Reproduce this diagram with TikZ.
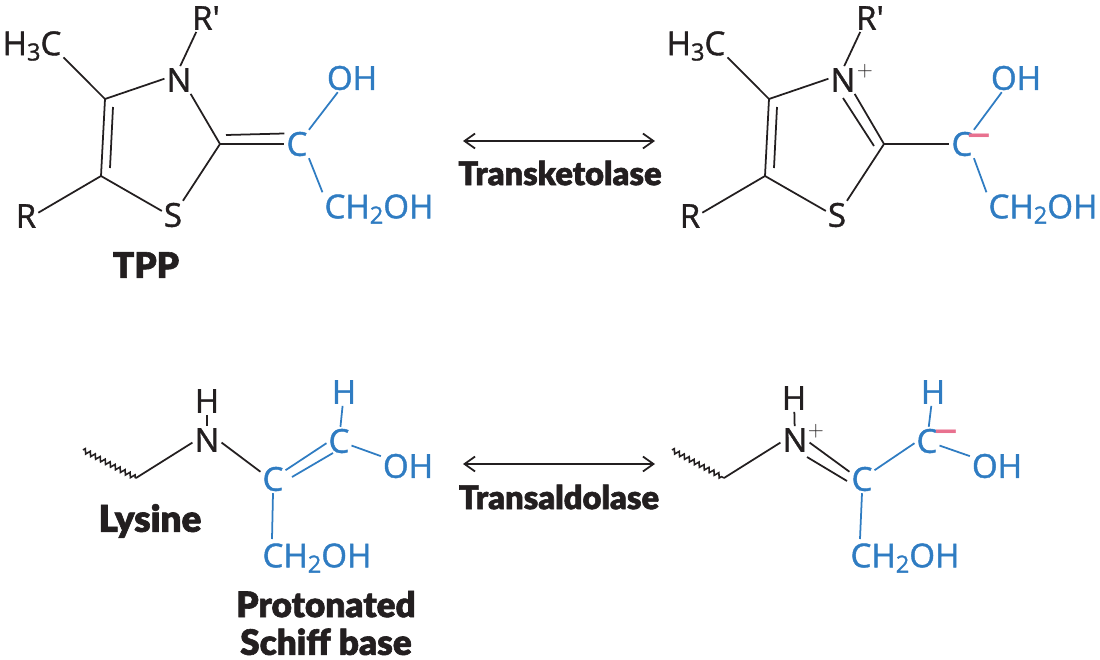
\documentclass[tikz,border=0pt]{standalone}
\usepackage{fontspec}
\usetikzlibrary{decorations.pathmorphing,arrows.meta}
\setmainfont{Open Sans}
\newfontfamily\atomfont[FakeBold=1.2]{Open Sans}
\newfontfamily\thinfont{Open Sans}
\newfontfamily\heavyfont[FakeBold=1.7]{Lato Black}
\definecolor{bondblack}{HTML}{231F20}
\definecolor{chemblue}{HTML}{2F7CC2}
\definecolor{chargepink}{HTML}{E8718F}
\newcommand{\subnum}[1]{\raisebox{-3pt}{\fontsize{13.5}{13.5}\selectfont #1}}

\begin{document}
\begin{tikzpicture}[x=0.02cm,y=-0.02cm]

\tikzset{
  atom/.style = {inner sep=1pt, text=bondblack, font=\atomfont\fontsize{18.8}{20}\selectfont},
  blueatom/.style = {atom, text=chemblue},
  plussign/.style = {inner sep=0pt, text=bondblack, font=\fontsize{12}{12}\selectfont},
  minussign/.style = {inner sep=0pt, text=chargepink, font=\thinfont\fontsize{27}{27}\selectfont},
  caption/.style = {inner sep=0pt, text=bondblack, align=center, font=\heavyfont\fontsize{18.6}{21}\selectfont},
  bigcaption/.style = {caption, font=\heavyfont\fontsize{20}{21.5}\selectfont},
  bond/.style = {draw=bondblack, line width=1pt},
  bluebond/.style = {draw=chemblue, line width=1pt},
  wavy/.style = {bond, line width=0.9pt, decorate, decoration={zigzag, segment length=3.2pt, amplitude=1.3pt}},
  equil/.style = {draw=bondblack, line width=1pt, {Straight Barb[length=6pt,width=8.5pt]}-{Straight Barb[length=6pt,width=8.5pt]}}
}

  \path[use as bounding box] (0,0) rectangle (1100,660);

  % TPP, left
  \node[atom] (rp1) at (206,18) {R′};
  \node[atom] (me1) at (32,46) {H\subnum{3}C};
  \node[atom] (n1) at (179,80) {N};
  \node[atom] (s1) at (173,215) {S};
  \node[atom] (r1) at (26,216) {R};
  \node[blueatom] (c1) at (297,144) {C};
  \node[blueatom] (oh1) at (352,78) {OH};
  \node[blueatom] (ch1) at (379,209) {CH\subnum{2}OH};
  \node[bigcaption] (tpp) at (146,265) {TPP};

  \coordinate (a1) at (105,99);
  \coordinate (b1) at (101,176);
  \coordinate (d1) at (220,144);
  \coordinate (ai1) at (113,107);
  \coordinate (bi1) at (110,168);
  \coordinate (di1) at (226,135);

  \draw[bond] (rp1.-125) -- (n1.85);
  \draw[bond] (me1.-20) -- (a1);
  \draw[bond] (a1) -- (n1.175);
  \draw[bond] (n1.-50) -- (d1);
  \draw[bond] (d1) -- (s1.55);
  \draw[bond] (s1.160) -- (b1);
  \draw[bond] (b1) -- (r1.15);
  \draw[bond] (a1) -- (b1);
  \draw[bond] (ai1) -- (bi1);
  \draw[bond] (d1) -- (c1.west);
  \draw[bond] (di1) -- (c1.140);
  \draw[bluebond] (c1.50) -- (oh1.-135);
  \draw[bluebond] (c1.-50) -- (ch1.north west);

  % TPP, right
  \node[atom] (rp2) at (870,18) {R′};
  \node[atom] (me2) at (696,46) {H\subnum{3}C};
  \node[atom] (n2) at (843,80) {N};
  \node[plussign] (np2) at (865,71) {$+$};
  \node[atom] (s2) at (837,215) {S};
  \node[atom] (r2) at (690,216) {R};
  \node[blueatom] (c2) at (962,144) {C};
  \node[minussign] (cm2) at (979,141) {–};
  \node[blueatom] (oh2) at (1016,78) {OH};
  \node[blueatom] (ch2) at (1043,209) {CH\subnum{2}OH};

  \coordinate (a2) at (769,99);
  \coordinate (b2) at (765,176);
  \coordinate (d2) at (884,144);
  \coordinate (ai2) at (777,107);
  \coordinate (bi2) at (774,168);
  \coordinate (di2) at (874,146);
  \coordinate (ni2) at (843,98);

  \draw[bond] (rp2.-125) -- (n2.85);
  \draw[bond] (me2.-20) -- (a2);
  \draw[bond] (a2) -- (n2.175);
  \draw[bond] (n2.-50) -- (d2);
  \draw[bond] (ni2) -- (di2);
  \draw[bond] (d2) -- (s2.55);
  \draw[bond] (s2.160) -- (b2);
  \draw[bond] (b2) -- (r2.15);
  \draw[bond] (a2) -- (b2);
  \draw[bond] (ai2) -- (bi2);
  \draw[bond] (d2) -- (c2.west);
  \draw[bluebond] (c2.50) -- (oh2.-135);
  \draw[bluebond] (c2.-50) -- (ch2.north west);

  % lysine, left
  \node[atom] (hn3) at (207,401) {H};
  \node[atom] (n3) at (207,440) {N};
  \node[blueatom] (cm3) at (273,479) {C};
  \node[blueatom] (cu3) at (339,441) {C};
  \node[blueatom] (hc3) at (344,392) {H};
  \node[blueatom] (oh3) at (408,466) {OH};
  \node[blueatom] (ch3) at (317,558) {CH\subnum{2}OH};
  \node[bigcaption, font=\heavyfont\fontsize{21}{22}\selectfont] (lys) at (150,521) {Lysine};
  \node[bigcaption] (schiff) at (326,623) {Protonated\\Schiff base};

  \coordinate (wa3) at (83,450);
  \coordinate (wb3) at (136,478);
  \coordinate (ct3) at (272,539);
  \coordinate (ea3) at (292,477);
  \coordinate (eb3) at (333,453);

  \draw[wavy] (wa3) -- (wb3);
  \draw[bond] (wb3) -- (n3.190);
  \draw[bond] (n3.-10) -- (cm3.150);
  \draw[bond] (hn3) -- (n3);
  \draw[bluebond] (cm3.35) -- (cu3.190);
  \draw[bluebond] (ea3) -- (eb3);
  \draw[bluebond] (cu3) -- (hc3);
  \draw[bluebond] (cu3.-20) -- (oh3.160);
  \draw[bluebond] (cm3.-90) -- (ct3);

  % lysine, right
  \node[atom] (hn4) at (794,398) {H};
  \node[atom] (n4) at (795,440) {N};
  \node[plussign] (np4) at (816,431) {$+$};
  \node[blueatom] (cm4) at (862,479) {C};
  \node[blueatom] (cu4) at (927,441) {C};
  \node[minussign] (cn4) at (946,437) {–};
  \node[blueatom] (hc4) at (933,392) {H};
  \node[blueatom] (oh4) at (997,466) {OH};
  \node[blueatom] (ch4) at (905,558) {CH\subnum{2}OH};

  \coordinate (wa4) at (672,450);
  \coordinate (wb4) at (724,478);
  \coordinate (ct4) at (860,539);
  \coordinate (ea4) at (807,457);
  \coordinate (eb4) at (847,481);

  \draw[wavy] (wa4) -- (wb4);
  \draw[bond] (wb4) -- (n4.190);
  \draw[bond] (n4.-10) -- (cm4.150);
  \draw[bond] (ea4) -- (eb4);
  \draw[bond] (hn4) -- (n4);
  \draw[bluebond] (cm4.35) -- (cu4.190);
  \draw[bluebond] (cu4) -- (hc4);
  \draw[bluebond] (cu4.-20) -- (oh4.160);
  \draw[bluebond] (cm4.-90) -- (ct4);

  % equilibrium arrows
  \coordinate (eqa) at (463,141);
  \coordinate (eqb) at (655,141);
  \coordinate (eqc) at (463,464);
  \coordinate (eqd) at (655,464);
  \draw[equil] (eqa) -- (eqb);
  \draw[equil] (eqc) -- (eqd);
  \node[caption] (tk) at (560,173) {Transketolase};
  \node[caption] (ta) at (559,497) {Transaldolase};

\end{tikzpicture}
\end{document}
